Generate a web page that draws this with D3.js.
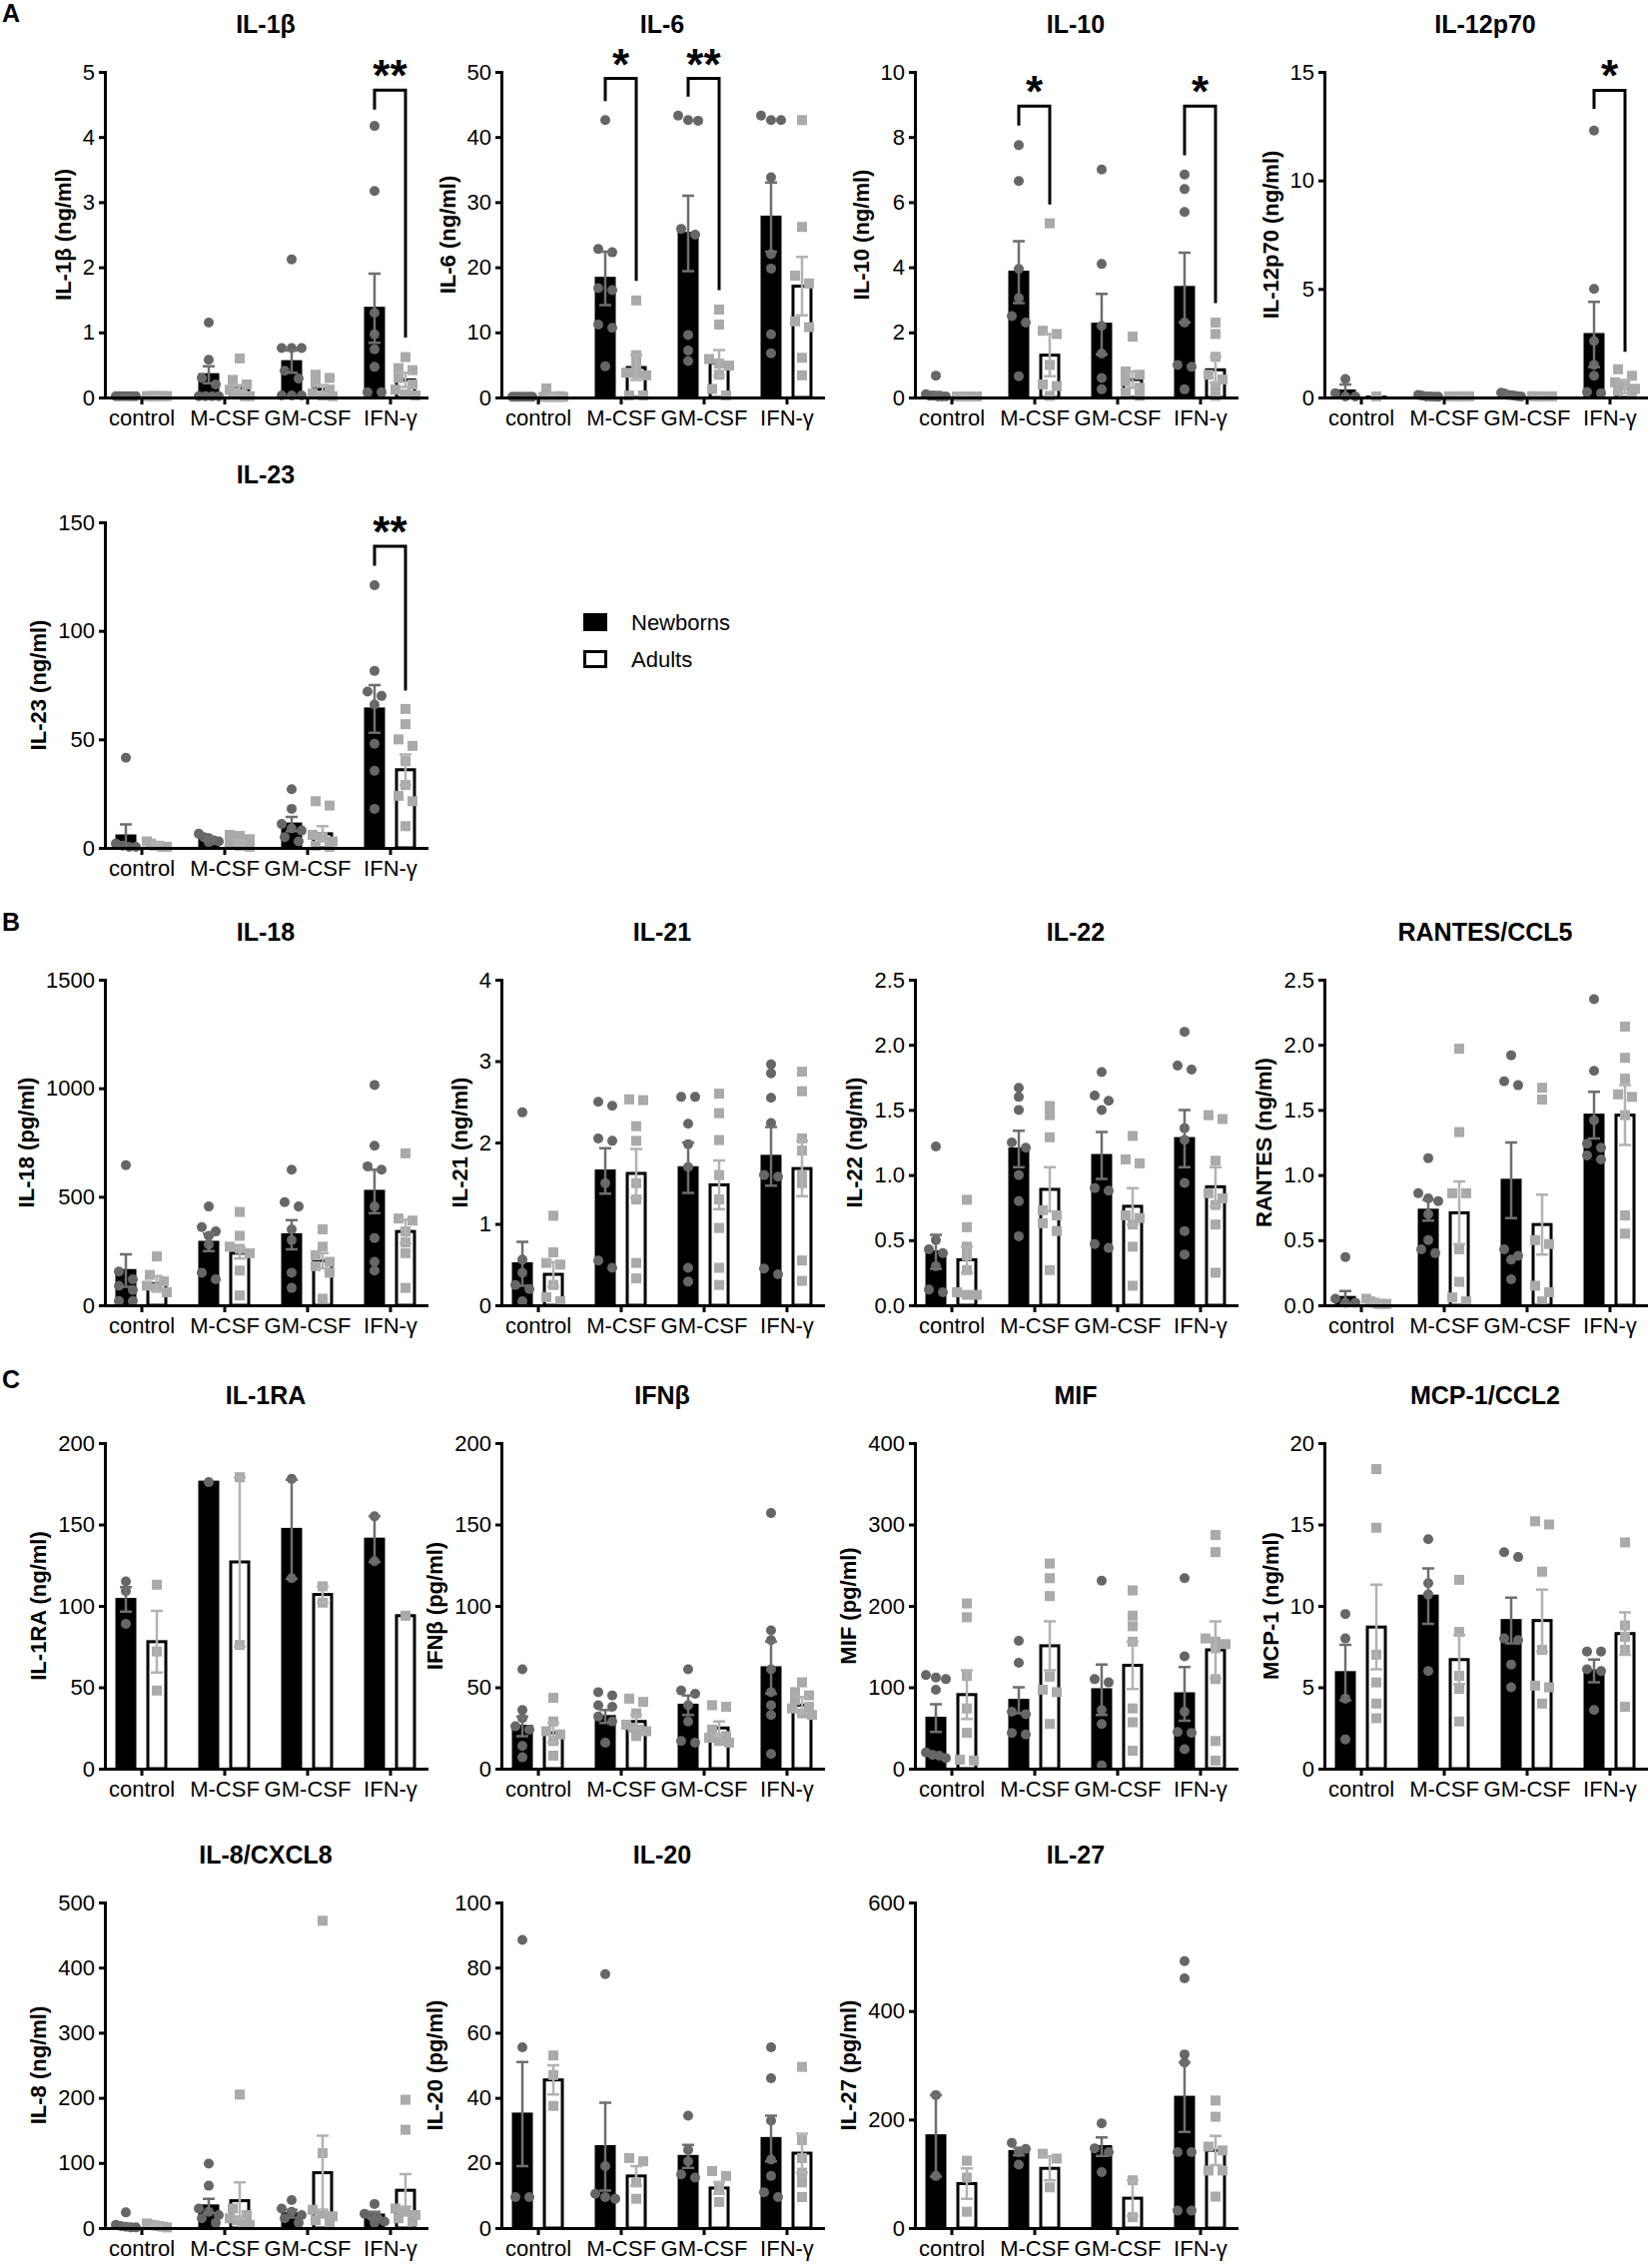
<!DOCTYPE html>
<html>
<head>
<meta charset="utf-8">
<script src="https://cdn.jsdelivr.net/npm/d3@7"></script>
<style>
  body { margin: 0; background: #fff; }
  text { font-family: "Liberation Sans", Arial, sans-serif; fill: #000; }
</style>
</head>
<body>
<div id="chart"></div>
<script>
// order of every mean / sem / points array:
// control N, control A, M-CSF N, M-CSF A, GM-CSF N, GM-CSF A, IFN-γ N, IFN-γ A
const groups = ['control', 'M-CSF', 'GM-CSF', 'IFN-γ'];
const cohorts = ['Newborns', 'Adults'];

//----- A -----
let il1bTicks = [0, 1, 2, 3, 4, 5];
let il1bMean = [0.02, 0.02, 0.35, 0.14, 0.55, 0.13, 1.37, 0.27];
let il1bSem = [0.01, 0.01, 0.13, 0.05, 0.17, 0.06, 0.53, 0.11];
let il1bPts = [
  [0.02, 0.02, 0.02, 0.02, 0.02, 0.02, 0.02],
  [0.02, 0.02, 0.02, 0.02, 0.02, 0.02, 0.02],
  [1.15, 0.58, 0.3, 0.2, 0.02, 0.02, 0.02, 0.02],
  [0.6, 0.27, 0.2, 0.12, 0.08, 0.05, 0.02, 0.02],
  [2.12, 0.76, 0.76, 0.76, 0.41, 0.29, 0.03, 0.03, 0.03],
  [0.35, 0.3, 0.22, 0.12, 0.06, 0.03, 0.02],
  [4.17, 3.17, 1.3, 0.97, 0.74, 0.47, 0.08, 0.08],
  [0.62, 0.45, 0.42, 0.3, 0.2, 0.12, 0.05, 0.03]
];
let il1bSig = [{ group: 'IFN-γ', top: 4.72, left: 4.42, right: 0.92, text: '**' }];

let il6Ticks = [0, 10, 20, 30, 40, 50];
let il6Mean = [0.1, 0.3, 18.3, 4.6, 25.2, 5.3, 27.7, 17.1];
let il6Sem = [0.05, 0.15, 4.1, 1.9, 5.8, 2.0, 5.3, 4.5];
let il6Pts = [
  [0.1, 0.1, 0.1, 0.1, 0.1, 0.1, 0.1],
  [1.4, 0.2, 0.1, 0.1, 0.1, 0.1, 0.1],
  [42.6, 22.8, 22.3, 16.8, 16.5, 11.2, 10.7, 4.8],
  [14.9, 6.5, 5.2, 3.8, 3.7, 3.4, 0.3, 0.3],
  [43.3, 42.6, 42.5, 25.9, 25, 9.6, 7.2, 5.6],
  [13.5, 11.2, 5.9, 5.2, 4.9, 3.5, 1.3, 0.3],
  [43.3, 42.6, 42.6, 33.8, 22, 19.8, 9.7, 6.8],
  [42.6, 26.2, 18.7, 17.5, 11.7, 10.8, 6.1, 3.4]
];
let il6Sig = [
  { group: 'M-CSF', top: 49, left: 45.5, right: 17.9, text: '*' },
  { group: 'GM-CSF', top: 49, left: 46.2, right: 16.5, text: '**' }
];

let il10Ticks = [0, 2, 4, 6, 8, 10];
let il10Mean = [0.1, 0.03, 3.85, 1.3, 2.25, 0.55, 3.38, 0.85];
let il10Sem = [0.07, 0.01, 0.95, 0.65, 0.93, 0.25, 1.07, 0.4];
let il10Pts = [
  [0.67, 0.1, 0.05, 0.05, 0.03, 0.03, 0.03],
  [0.03, 0.03, 0.03, 0.03, 0.03, 0.03],
  [7.75, 6.65, 3.95, 3.05, 2.5, 2.3, 0.65],
  [5.35, 2.05, 1.95, 1.0, 0.4, 0.35, 0.05],
  [7.0, 4.1, 2.2, 1.35, 0.6, 0.25],
  [1.87, 0.8, 0.7, 0.5, 0.3, 0.15, 0.05],
  [6.85, 6.4, 5.7, 2.3, 1.0, 0.94, 0.25],
  [2.3, 1.95, 1.25, 0.7, 0.55, 0.35, 0.05]
];
let il10Sig = [
  { group: 'M-CSF', top: 8.95, left: 8.35, right: 5.93, text: '*' },
  { group: 'IFN-γ', top: 8.95, left: 7.44, right: 2.9, text: '*' }
];

let il12Ticks = [0, 5, 10, 15];
let il12Mean = [0.3, 0.02, 0.05, 0.05, 0.1, 0.05, 2.9, 0.5];
let il12Sem = [0.3, 0.01, 0.02, 0.02, 0.03, 0.02, 1.5, 0.3];
let il12Pts = [
  [0.85, 0.2, 0.05, 0.05],
  [0.05],
  [0.12, 0.08, 0.05, 0.05, 0.04, 0.03],
  [0.05, 0.05, 0.05, 0.05, 0.05, 0.05],
  [0.22, 0.18, 0.12, 0.1, 0.08, 0.06, 0.05],
  [0.06, 0.05, 0.05, 0.05, 0.05, 0.05],
  [12.3, 5.0, 2.6, 1.5, 1.0, 0.25, 0.2],
  [1.3, 1.0, 0.7, 0.55, 0.4, 0.3, 0.15]
];
let il12Sig = [{ group: 'IFN-γ', top: 14.15, left: 13.3, right: 2.1, text: '*' }];

let il23Ticks = [0, 50, 100, 150];
let il23Mean = [5.5, 1.5, 4.1, 2.5, 11, 6.5, 64, 36];
let il23Sem = [5.3, 0.8, 0.8, 1.0, 3.3, 3.5, 11, 7];
let il23Pts = [
  [41.5, 2, 1, 0.5, 0.5],
  [3, 2, 1, 1, 0.5, 0.5],
  [6.5, 5, 4.5, 3.5, 3, 2.5],
  [6, 5.5, 4, 2, 1, 0.5],
  [27, 18, 11, 9, 8, 5, 3],
  [21.5, 19.5, 6, 5, 3, 1, 0.5],
  [121, 81.5, 72, 70, 66, 48, 35.5, 18],
  [64, 57, 50, 47, 40, 29, 24, 21.5, 10]
];
let il23Sig = [{ group: 'IFN-γ', top: 139, left: 130, right: 72.5, text: '**' }];

//----- B -----
let il18Ticks = [0, 500, 1000, 1500];
let il18Mean = [160, 100, 290, 240, 325, 205, 525, 340];
let il18Sem = [75, 35, 40, 25, 67, 35, 100, 55];
let il18Pts = [
  [645, 155, 120, 90, 70, 20, 20],
  [225, 140, 110, 90, 80, 60],
  [455, 360, 340, 320, 280, 150, 120],
  [430, 320, 270, 260, 240, 160, 45],
  [625, 475, 455, 350, 300, 150, 80],
  [350, 270, 230, 200, 180, 150, 30],
  [1015, 735, 640, 625, 455, 310, 200, 160],
  [700, 400, 390, 340, 290, 240, 80]
];

let il21Ticks = [0, 1, 2, 3, 4];
let il21Mean = [0.51, 0.38, 1.65, 1.62, 1.69, 1.48, 1.83, 1.68];
let il21Sem = [0.27, 0.15, 0.28, 0.3, 0.31, 0.3, 0.36, 0.34];
let il21Pts = [
  [2.37, 0.56, 0.4, 0.25, 0.2, 0.05],
  [1.1, 0.65, 0.52, 0.5, 0.25, 0.1, 0.05],
  [2.5, 2.45, 2.05, 2.02, 1.5, 0.55, 0.46],
  [2.53, 2.52, 2.2, 2.02, 1.5, 1.3, 0.52, 0.33],
  [2.56, 2.56, 2.23, 1.98, 1.7, 0.46, 0.29],
  [2.6, 2.36, 2.03, 1.6, 1.3, 0.95, 0.46, 0.25],
  [2.96, 2.85, 2.55, 2.24, 1.6, 1.58, 0.45, 0.38],
  [2.87, 2.63, 2.05, 1.9, 1.6, 1.5, 0.55, 0.3]
];

let il22Ticks = [0, 0.5, 1, 1.5, 2, 2.5];
let il22Mean = [0.41, 0.35, 1.2, 0.89, 1.15, 0.76, 1.28, 0.91];
let il22Sem = [0.13, 0.1, 0.14, 0.17, 0.18, 0.14, 0.22, 0.15];
let il22Pts = [
  [1.22, 0.5, 0.43, 0.4, 0.3, 0.12, 0.1],
  [0.81, 0.6, 0.45, 0.38, 0.27, 0.1, 0.08, 0.08],
  [1.67, 1.6, 1.5, 1.25, 1.21, 1.0, 0.8, 0.53],
  [1.53, 1.46, 1.29, 0.73, 0.69, 0.63, 0.57, 0.27],
  [1.79, 1.61, 1.57, 1.5, 0.9, 0.88, 0.47, 0.44],
  [1.3, 1.12, 1.09, 0.69, 0.67, 0.62, 0.45, 0.15],
  [2.1, 1.84, 1.81, 1.36, 1.27, 0.94, 0.57, 0.39],
  [1.46, 1.43, 1.11, 0.86, 0.82, 0.77, 0.62, 0.25]
];

let rantesTicks = [0, 0.5, 1, 1.5, 2, 2.5];
let rantesMean = [0.06, 0.02, 0.73, 0.71, 0.96, 0.62, 1.46, 1.46];
let rantesSem = [0.05, 0.01, 0.08, 0.24, 0.29, 0.23, 0.18, 0.23];
let rantesPts = [
  [0.37, 0.05, 0.02, 0.02],
  [0.05, 0.03, 0.02, 0.01, 0.01, 0.01],
  [1.13, 0.86, 0.82, 0.8, 0.7, 0.5, 0.43, 0.4],
  [1.97, 1.33, 0.86, 0.86, 0.43, 0.18, 0.06, 0.03],
  [1.92, 1.72, 1.69, 0.43, 0.38, 0.35, 0.2],
  [1.67, 1.58, 0.5, 0.47, 0.15, 0.1, 0.03],
  [2.35, 1.8, 1.42, 1.24, 1.21, 1.15, 1.12],
  [2.14, 1.9, 1.74, 1.62, 1.6, 1.46, 0.69, 0.55]
];

//----- C -----
let il1raTicks = [0, 50, 100, 150, 200];
let il1raMean = [104, 78, 176, 127, 147, 107, 141, 94];
let il1raSem = [7.5, 19, 0, 52, 30.5, 5, 14, 0];
let il1raPts = [
  [115, 109, 89],
  [113, 72, 48],
  [176],
  [179, 76],
  [178, 117],
  [112, 102],
  [155, 127.5],
  [94]
];

let ifnbTicks = [0, 50, 100, 150, 200];
let ifnbMean = [26, 22, 32, 29, 39, 25, 62, 39];
let ifnbSem = [6, 6, 4, 4, 6, 4, 16, 5];
let ifnbPts = [
  [61, 36, 31, 26, 24, 14, 7],
  [43.5, 29, 23, 21, 17, 8],
  [47, 45, 39, 38, 32, 29, 16],
  [43, 41, 34, 27, 25, 24, 23, 20],
  [61, 48, 46, 39, 29, 17, 16],
  [39, 38, 24, 20, 19, 17, 16],
  [157, 85, 79, 61, 47, 39, 33, 9],
  [53, 47, 45, 42, 38, 37, 34, 33]
];

let mifTicks = [0, 100, 200, 300, 400];
let mifMean = [62, 91, 84, 151, 97, 127, 92, 146];
let mifSem = [17, 30, 16, 30, 31, 29, 33, 35];
let mifPts = [
  [115, 112, 110, 97, 20, 17, 16, 13],
  [203, 186, 114, 74, 44, 11, 10],
  [157, 130, 70, 67, 44, 42],
  [252, 234, 212, 113, 97, 94, 55],
  [231, 110, 106, 72, 55, 4],
  [219, 188, 175, 156, 74, 57, 22],
  [234, 138, 70, 45, 44, 24],
  [287, 266, 160, 156, 153, 148, 110, 34, 10]
];

let mcp1Ticks = [0, 5, 10, 15, 20];
let mcp1Mean = [5.9, 8.7, 10.6, 6.7, 9.1, 9.1, 6.0, 8.3];
let mcp1Sem = [1.7, 2.6, 1.7, 1.5, 1.4, 1.9, 0.7, 1.3];
let mcp1Pts = [
  [9.5, 8, 4.3, 1.8],
  [18.4, 14.8, 7, 5.3, 4, 3.1],
  [14.1, 11.4, 10.7, 6],
  [11.6, 8.4, 5.7, 4.9, 2.9],
  [13.3, 13.0, 8.0, 7.9, 6.4, 5.0],
  [15.2, 15.0, 12.1, 7.3, 5.1, 5.0, 4.0],
  [7.2, 7.2, 6.1, 6.0, 3.6],
  [13.9, 8.8, 8.1, 7.3, 3.8]
];

let il8Ticks = [0, 100, 200, 300, 400, 500];
let il8Mean = [4, 4, 34, 42, 22, 85, 20, 58];
let il8Sem = [2, 1, 11, 28, 6, 57, 5, 25];
let il8Pts = [
  [24, 5, 3, 2, 1, 1],
  [7, 5, 4, 3, 2, 1],
  [99, 65, 30, 25, 20, 15, 8],
  [205, 30, 20, 15, 12, 8, 5],
  [43, 30, 25, 20, 15, 8],
  [472, 115, 28, 22, 18, 12, 8],
  [37, 22, 18, 15, 10, 8],
  [197, 151, 30, 25, 20, 15, 10]
];

let il20Ticks = [0, 20, 40, 60, 80, 100];
let il20Mean = [35, 45.5, 25, 16, 22, 12.3, 27.5, 23];
let il20Sem = [16, 4.5, 13.5, 3, 3.5, 1.8, 7, 6];
let il20Pts = [
  [88.5, 55.5, 9.5, 9.5],
  [53, 47, 37.5],
  [78, 19, 10.5, 9.5, 9],
  [21.5, 20.5, 14, 9],
  [34.5, 24, 20.5, 16.5, 15.5],
  [17.5, 16, 12.3, 8],
  [55.5, 46, 33, 21, 16, 11, 9.5],
  [49.5, 27, 21.5, 17, 14, 9.5]
];

let il27Ticks = [0, 200, 400, 600];
let il27Mean = [170, 82, 141, 110, 150, 55, 241, 143];
let il27Sem = [75, 28, 7, 22, 17, 33, 64, 27];
let il27Pts = [
  [245, 96],
  [124, 93, 30],
  [157, 146, 140, 117],
  [137, 128, 75],
  [193, 147, 140, 103],
  [88, 20],
  [492, 460, 320, 305, 140, 140, 32, 32],
  [235, 205, 150, 143, 106, 106, 58]
];

//----- layout -----
let width = 1654;
let height = 2267;
let colX = [105, 502, 916, 1326];
let rowY = [72, 523, 981, 1445, 1905];
let plotW = 322;
let plotH = 326;

let intFmt = d3.format('d');
let decFmt = d3.format('.1f');

let panels = [
  { title: 'IL-1β', label: 'IL-1β (ng/ml)', ticks: il1bTicks, mean: il1bMean, sem: il1bSem, pts: il1bPts, sig: il1bSig, col: 0, row: 0 },
  { title: 'IL-6', label: 'IL-6 (ng/ml)', ticks: il6Ticks, mean: il6Mean, sem: il6Sem, pts: il6Pts, sig: il6Sig, col: 1, row: 0 },
  { title: 'IL-10', label: 'IL-10 (ng/ml)', ticks: il10Ticks, mean: il10Mean, sem: il10Sem, pts: il10Pts, sig: il10Sig, col: 2, row: 0 },
  { title: 'IL-12p70', label: 'IL-12p70 (ng/ml)', ticks: il12Ticks, mean: il12Mean, sem: il12Sem, pts: il12Pts, sig: il12Sig, col: 3, row: 0 },
  { title: 'IL-23', label: 'IL-23 (ng/ml)', ticks: il23Ticks, mean: il23Mean, sem: il23Sem, pts: il23Pts, sig: il23Sig, col: 0, row: 1 },
  { title: 'IL-18', label: 'IL-18 (pg/ml)', ticks: il18Ticks, mean: il18Mean, sem: il18Sem, pts: il18Pts, col: 0, row: 2 },
  { title: 'IL-21', label: 'IL-21 (ng/ml)', ticks: il21Ticks, mean: il21Mean, sem: il21Sem, pts: il21Pts, col: 1, row: 2 },
  { title: 'IL-22', label: 'IL-22 (ng/ml)', ticks: il22Ticks, mean: il22Mean, sem: il22Sem, pts: il22Pts, col: 2, row: 2, fmt: decFmt },
  { title: 'RANTES/CCL5', label: 'RANTES (ng/ml)', ticks: rantesTicks, mean: rantesMean, sem: rantesSem, pts: rantesPts, col: 3, row: 2, fmt: decFmt },
  { title: 'IL-1RA', label: 'IL-1RA (ng/ml)', ticks: il1raTicks, mean: il1raMean, sem: il1raSem, pts: il1raPts, col: 0, row: 3 },
  { title: 'IFNβ', label: 'IFNβ (pg/ml)', ticks: ifnbTicks, mean: ifnbMean, sem: ifnbSem, pts: ifnbPts, col: 1, row: 3 },
  { title: 'MIF', label: 'MIF (pg/ml)', ticks: mifTicks, mean: mifMean, sem: mifSem, pts: mifPts, col: 2, row: 3 },
  { title: 'MCP-1/CCL2', label: 'MCP-1 (ng/ml)', ticks: mcp1Ticks, mean: mcp1Mean, sem: mcp1Sem, pts: mcp1Pts, col: 3, row: 3 },
  { title: 'IL-8/CXCL8', label: 'IL-8 (ng/ml)', ticks: il8Ticks, mean: il8Mean, sem: il8Sem, pts: il8Pts, col: 0, row: 4 },
  { title: 'IL-20', label: 'IL-20 (pg/ml)', ticks: il20Ticks, mean: il20Mean, sem: il20Sem, pts: il20Pts, col: 1, row: 4 },
  { title: 'IL-27', label: 'IL-27 (pg/ml)', ticks: il27Ticks, mean: il27Mean, sem: il27Sem, pts: il27Pts, col: 2, row: 4 }
];

let svg = d3.select('#chart').append('svg')
  .attr('width', width)
  .attr('height', height);

// section letters
svg.selectAll('text.section')
  .data([['A', 22], ['B', 932], ['C', 1390]])
  .enter().append('text')
    .attr('class', 'section')
    .attr('x', 2)
    .attr('y', d => d[1])
    .attr('font-size', 25)
    .attr('font-weight', 'bold')
    .text(d => d[0]);

// spread points that sit on the same height, like a prism scatter
function spread(values, y) {
  let order = values.map((v, i) => i).sort((a, b) => values[b] - values[a]);
  let offs = values.map(() => 0);
  let rows = [];
  order.forEach(i => {
    let last = rows[rows.length - 1];
    if (last && Math.abs(y(values[i]) - y(values[last[0]])) < 8) last.push(i);
    else rows.push([i]);
  });
  rows.forEach(r => {
    let n = r.length;
    if (n < 2) return;
    let step = Math.min(14, 20 / (n - 1));
    r.forEach((i, k) => { offs[i] = (k - (n - 1) / 2) * step; });
  });
  return offs;
}

panels.forEach(p => {
  let g = svg.append('g')
    .attr('transform', 'translate(' + colX[p.col] + ',' + rowY[p.row] + ')');

  let x = d3.scalePoint().domain(groups).range([0, plotW]).padding(0.44);
  let sub = d3.scalePoint().domain(cohorts).range([-15.5, 15.5]);
  let y = d3.scaleLinear().domain([0, d3.max(p.ticks)]).range([plotH, 0]);

  let bars = [];
  groups.forEach((gr, gi) => cohorts.forEach((c, ci) => {
    let k = gi * 2 + ci;
    bars.push({ group: gr, cohort: c, mean: p.mean[k], sem: p.sem[k], pts: p.pts[k] });
  }));
  let cx = d => x(d.group) + sub(d.cohort);

  // bars
  g.selectAll('rect.bar')
    .data(bars)
    .enter().append('rect')
      .attr('class', 'bar')
      .attr('x', d => cx(d) - 9)
      .attr('width', 18)
      .attr('y', d => y(d.mean))
      .attr('height', d => plotH - y(d.mean))
      .attr('fill', d => d.cohort == 'Newborns' ? '#000' : '#fff')
      .attr('stroke', '#000')
      .attr('stroke-width', 3);

  // points
  bars.forEach(b => {
    let offs = spread(b.pts, y);
    if (b.cohort == 'Newborns') {
      g.selectAll(null)
        .data(b.pts)
        .enter().append('circle')
          .attr('cx', (d, i) => cx(b) + offs[i])
          .attr('cy', d => y(d))
          .attr('r', 5)
          .attr('fill', '#666');
    } else {
      g.selectAll(null)
        .data(b.pts)
        .enter().append('rect')
          .attr('x', (d, i) => cx(b) + offs[i] - 5)
          .attr('y', d => y(d) - 5)
          .attr('width', 10)
          .attr('height', 10)
          .attr('fill', '#aaa');
    }
  });

  // error bars (mean ± SEM)
  let errs = bars.filter(d => d.sem > 0);
  let errColor = d => d.cohort == 'Newborns' ? '#6e6e6e' : '#b2b2b2';
  g.selectAll('line.err')
    .data(errs)
    .enter().append('line')
      .attr('class', 'err')
      .attr('x1', cx).attr('x2', cx)
      .attr('y1', d => y(Math.max(0, d.mean - d.sem)))
      .attr('y2', d => y(d.mean + d.sem))
      .attr('stroke', errColor)
      .attr('stroke-width', 2.5);
  g.selectAll('path.cap')
    .data(errs)
    .enter().append('path')
      .attr('class', 'cap')
      .attr('d', d => 'M' + (cx(d) - 6) + ',' + y(d.mean + d.sem) + 'h12' +
                      'M' + (cx(d) - 6) + ',' + y(Math.max(0, d.mean - d.sem)) + 'h12')
      .attr('stroke', errColor)
      .attr('stroke-width', 2.5);

  //-----Y-------
  let yAxis = d3.axisLeft(y)
    .tickValues(p.ticks)
    .tickFormat(p.fmt || intFmt)
    .tickSize(6)
    .tickSizeOuter(0)
    .tickPadding(4);
  let yg = g.append('g').attr('class', 'axis y').call(yAxis);

  //-----X-------
  let xAxis = d3.axisBottom(x)
    .tickSize(7)
    .tickSizeOuter(0)
    .tickPadding(5);
  let xg = g.append('g').attr('class', 'axis x')
    .attr('transform', 'translate(0,' + plotH + ')')
    .call(xAxis);

  [yg, xg].forEach(a => {
    a.select('.domain').attr('stroke-width', 3).attr('stroke-linecap', 'square');
    a.selectAll('.tick line').attr('stroke-width', 3);
    a.selectAll('.tick text')
      .attr('font-size', 22)
      .attr('font-family', '"Liberation Sans", Arial, sans-serif')
      .attr('fill', '#000');
  });

  let maxW = d3.max(yg.selectAll('.tick text').nodes(), n => n.getBBox().width);

  g.append('text')
    .attr('transform', 'translate(' + (-(10 + maxW + 12)) + ',' + (plotH / 2) + ') rotate(-90)')
    .attr('text-anchor', 'middle')
    .attr('font-size', 22)
    .attr('font-weight', 'bold')
    .text(p.label);

  g.append('text')
    .attr('x', plotW / 2)
    .attr('y', -39)
    .attr('text-anchor', 'middle')
    .attr('font-size', 25)
    .attr('font-weight', 'bold')
    .text(p.title);

  // significance brackets
  (p.sig || []).forEach(s => {
    let xl = x(s.group) + sub('Newborns');
    let xr = x(s.group) + sub('Adults');
    g.append('path')
      .attr('d', 'M' + xl + ',' + y(s.left) + 'V' + y(s.top) + 'H' + xr + 'V' + y(s.right))
      .attr('fill', 'none')
      .attr('stroke', '#000')
      .attr('stroke-width', 3);
    g.append('text')
      .attr('x', (xl + xr) / 2)
      .attr('y', y(s.top) + 1)
      .attr('text-anchor', 'middle')
      .attr('font-size', 44)
      .attr('font-weight', 'bold')
      .text(s.text);
  });
});

//-----Legend-------
let legend = svg.append('g').attr('transform', 'translate(584,614)');
let item = legend.selectAll('g')
  .data(cohorts)
  .enter().append('g')
    .attr('transform', (d, i) => 'translate(0,' + (i * 37) + ')');
item.append('rect')
  .attr('x', 1.5).attr('y', 1.5)
  .attr('width', 21).attr('height', 15)
  .attr('fill', d => d == 'Newborns' ? '#000' : '#fff')
  .attr('stroke', '#000')
  .attr('stroke-width', 3);
item.append('text')
  .attr('x', 48)
  .attr('y', 9)
  .attr('dy', '0.35em')
  .attr('font-size', 22)
  .text(d => d);
</script>
</body>
</html>
